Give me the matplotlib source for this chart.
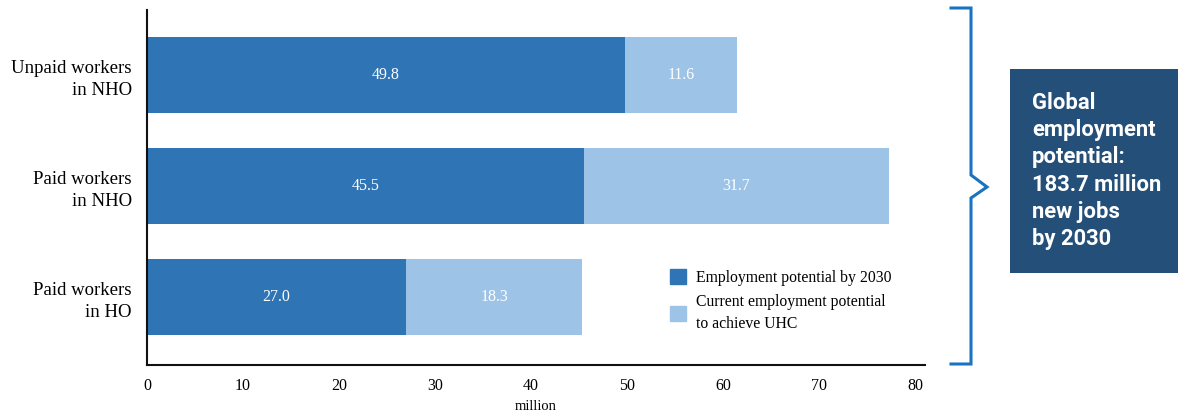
import matplotlib
matplotlib.use("Agg")
import matplotlib.pyplot as plt
from matplotlib.patches import Rectangle, Patch
from matplotlib.lines import Line2D

categories = ["Unpaid workers\nin NHO", "Paid workers\nin NHO", "Paid workers\nin HO"]
potential_2030 = [49.8, 45.5, 27.0]
current_uhc = [11.6, 31.7, 18.3]
series_names = ["Employment potential by 2030", "Current employment potential\nto achieve UHC"]
xticks = [0, 10, 20, 30, 40, 50, 60, 70, 80]
box_text = "Global\nemployment\npotential:\n183.7 million\nnew jobs\nby 2030"

DARK = "#2f74b5"
LIGHT = "#9dc3e6"
SERIF = ["Liberation Serif", "DejaVu Serif"]

W, H = 1178, 416
fig = plt.figure(figsize=(W / 100, H / 100), dpi=100)

def fx(px):
    return px / W

def fy(py):
    return 1 - py / H

ax = fig.add_axes([fx(147), fy(365), fx(925) - fx(147), fy(10) - fy(365)])
y = list(range(len(categories)))
bh = 0.685
ax.barh(y, potential_2030, height=bh, color=DARK, label=series_names[0])
ax.barh(y, current_uhc, left=potential_2030, height=bh, color=LIGHT, label=series_names[1])

for i in y:
    ax.text(potential_2030[i] / 2, i, f"{potential_2030[i]:.1f}", ha="center", va="center",
            color="white", fontsize=11.5, family=SERIF)
    ax.text(potential_2030[i] + current_uhc[i] / 2, i, f"{current_uhc[i]:.1f}", ha="center",
            va="center", color="white", fontsize=11.5, family=SERIF)

ax.set_xlim(0, 81)
ax.set_ylim(2.61, -0.59)
ax.set_yticks(y)
ax.set_yticklabels(categories, family=SERIF, fontsize=13.5, ha="right", linespacing=1.37)
ax.set_xticks(xticks)
ax.set_xticklabels([str(t) for t in xticks], family=SERIF, fontsize=11.5)
ax.tick_params(axis="both", length=0)
ax.tick_params(axis="y", pad=11)
ax.tick_params(axis="x", pad=9)
ax.set_xlabel("million", family=SERIF, fontsize=10.5, labelpad=5)
for s in ["top", "right"]:
    ax.spines[s].set_visible(False)
for s in ["left", "bottom"]:
    ax.spines[s].set_linewidth(1.5)
    ax.spines[s].set_color("#111111")

handles = [Patch(color=DARK), Patch(color=LIGHT)]
ax_w = fx(925) - fx(147)
ax_h = fy(10) - fy(365)
leg = ax.legend(handles, series_names, loc="upper left",
                bbox_to_anchor=((fx(670) - fx(147)) / ax_w, (fy(269) - fy(365)) / ax_h),
                frameon=False, prop={"family": SERIF, "size": 11.3}, handlelength=1.05,
                handleheight=1.05, handletextpad=0.6, labelspacing=0.55, borderaxespad=0,
                borderpad=0)
for t in leg.get_texts():
    t.set_linespacing(1.45)

# Brace
BRACE = "#1a73c0"
lw = 2.2
bx = 971
pts = [(951, 8), (bx, 8), (bx, 175), (987, 187), (bx, 198), (bx, 364), (951, 364)]
fig.add_artist(Line2D([fx(p[0]) for p in pts], [fy(p[1]) for p in pts], color=BRACE, lw=lw,
                      transform=fig.transFigure, solid_joinstyle="miter"))

# Box
fig.add_artist(Rectangle((fx(1010), fy(273)), fx(1178) - fx(1010), fy(69) - fy(273),
                         transform=fig.transFigure, color="#234f78", lw=0))
fig.text(fx(1032), fy(171), box_text, color="white", fontsize=15.8, fontweight="bold",
         family=["Roboto", "DejaVu Sans"], ha="left", va="center", linespacing=1.31)

fig.savefig("out.png", dpi=100)
